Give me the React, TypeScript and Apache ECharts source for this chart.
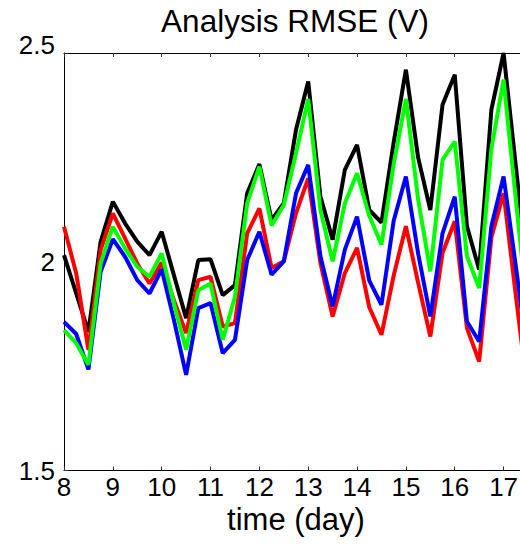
import React, { useEffect, useRef } from "react";
import * as echarts from "echarts";

const days = [
  8, 8.25, 8.5, 8.75, 9, 9.25, 9.5, 9.75, 10, 10.25, 10.5, 10.75, 11, 11.25, 11.5, 11.75,
  12, 12.25, 12.5, 12.75, 13, 13.25, 13.5, 13.75, 14, 14.25, 14.5, 14.75, 15, 15.25, 15.5, 15.75,
  16, 16.25, 16.5, 16.75, 17, 17.25, 17.5,
];
const blackSeries = [
  2.016, 1.924, 1.832, 2.048, 2.144, 2.092, 2.048, 2.016, 2.072, 1.968, 1.865, 2.004, 2.006, 1.92, 1.944, 2.164,
  2.234, 2.1, 2.14, 2.316, 2.432, 2.156, 2.053, 2.22, 2.28, 2.124, 2.094, 2.286, 2.46, 2.25, 2.124, 2.376,
  2.448, 2.085, 1.981, 2.364, 2.5, 2.23, 1.96,
];
const greenSeries = [
  1.836, 1.805, 1.753, 1.996, 2.084, 2.032, 1.988, 1.964, 2.02, 1.9, 1.789, 1.932, 1.948, 1.813, 1.916, 2.14,
  2.228, 2.087, 2.136, 2.26, 2.39, 2.124, 2.001, 2.14, 2.212, 2.11, 2.041, 2.234, 2.39, 2.15, 1.977, 2.244,
  2.288, 2.013, 1.937, 2.27, 2.436, 2.15, 1.87,
];
const blueSeries = [
  1.856, 1.827, 1.742, 1.976, 2.054, 2.012, 1.956, 1.924, 1.982, 1.861, 1.729, 1.889, 1.901, 1.781, 1.813, 2.004,
  2.072, 1.969, 2.001, 2.164, 2.232, 2.013, 1.893, 2.029, 2.108, 1.955, 1.897, 2.098, 2.204, 2.02, 1.869, 2.068,
  2.156, 1.857, 1.809, 2.085, 2.204, 1.99, 1.77,
];
const redSeries = [
  2.084, 1.972, 1.789, 2.028, 2.116, 2.056, 1.996, 1.948, 1.998, 1.908, 1.829, 1.956, 1.964, 1.845, 1.853, 2.068,
  2.128, 1.985, 2.001, 2.116, 2.2, 1.997, 1.869, 1.973, 2.033, 1.891, 1.825, 1.967, 2.085, 1.95, 1.821, 2.021,
  2.097, 1.841, 1.761, 2.058, 2.164, 1.92, 1.68,
];
const yTicks = [1.5, 2, 2.5];
const titleText = "Analysis RMSE (V)";
const xName = "time (day)";

const FONT = "'Liberation Sans', Arial, Helvetica, sans-serif";

export default function App() {
  const ref = useRef<HTMLDivElement>(null);
  useEffect(() => {
    document.body.style.margin = "0";
    document.body.style.overflow = "hidden";
    const chart = echarts.init(ref.current!, null, { renderer: "svg" });
    const mk = (name: string, vals: number[], color: string) => ({
      name,
      type: "line",
      data: days.map((d, i) => [d, vals[i]]),
      showSymbol: false,
      symbol: "none",
      lineStyle: { color, width: 4 },
      itemStyle: { color },
      clip: true,
    });
    chart.setOption({
      animation: false,
      backgroundColor: "#fff",
      graphic: [
        {
          type: "text",
          x: 295,
          y: 5,
          style: {
            text: titleText,
            font: `31.5px ${FONT}`,
            fill: "#000",
            textAlign: "center",
            textVerticalAlign: "top",
          },
        },
      ],
      grid: { left: 64, right: 0, top: 53, bottom: 78.5, containLabel: false },
      xAxis: [
        {
          type: "value",
          min: 8,
          max: 17.5,
          interval: 1,
          position: "bottom",
          name: xName,
          nameLocation: "middle",
          nameGap: 33,
          nameTextStyle: { fontSize: 31, fontFamily: FONT, color: "#000" },
          axisLine: { show: true, lineStyle: { color: "#000", width: 1 } },
          axisTick: { show: true, inside: true, length: 4, lineStyle: { color: "#333" } },
          axisLabel: {
            fontSize: 26,
            fontFamily: FONT,
            color: "#000",
            margin: 3,
            showMaxLabel: false,
          },
          splitLine: { show: false },
        },
        {
          type: "value",
          min: 8,
          max: 17.5,
          interval: 1,
          position: "top",
          axisLine: { show: true, lineStyle: { color: "#000", width: 1 } },
          axisTick: { show: true, inside: true, length: 4, lineStyle: { color: "#333" } },
          axisLabel: { show: false },
          splitLine: { show: false },
        },
      ],
      yAxis: [
        {
          type: "value",
          min: yTicks[0],
          max: yTicks[yTicks.length - 1],
          interval: 0.5,
          position: "left",
          axisLine: { show: true, lineStyle: { color: "#000", width: 1 } },
          axisTick: { show: true, inside: true, length: 4, lineStyle: { color: "#333" } },
          axisLabel: {
            fontSize: 26,
            fontFamily: FONT,
            color: "#000",
            margin: 9,
            formatter: (v: number) => (v === 2.5 ? "{t|2.5}" : String(v)),
            rich: {
              t: { fontSize: 26, fontFamily: FONT, color: "#000", padding: [0, 0, 16, 0] },
            },
          },
          splitLine: { show: false },
        },
        {
          type: "value",
          min: yTicks[0],
          max: yTicks[yTicks.length - 1],
          interval: 0.5,
          position: "right",
          axisLine: { show: true, lineStyle: { color: "#000", width: 1 } },
          axisTick: { show: true, inside: true, length: 4 },
          axisLabel: { show: false },
          splitLine: { show: false },
        },
      ],
      series: [
        mk("black", blackSeries, "#000000"),
        mk("red", redSeries, "#ff0000"),
        mk("blue", blueSeries, "#0000ff"),
        mk("green", greenSeries, "#00ff00"),
      ],
    });
    return () => chart.dispose();
  }, []);
  return (
    <div
      ref={ref}
      style={{ position: "fixed", left: 0, top: 0, width: 528, height: 549, background: "#fff" }}
    />
  );
}
